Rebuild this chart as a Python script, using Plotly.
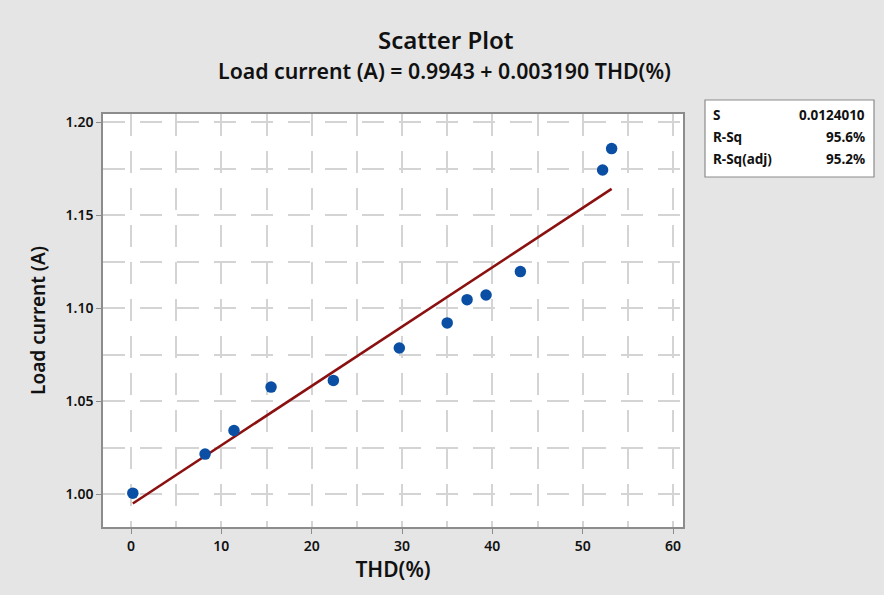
import plotly.graph_objects as go

# ---- data ----
thd = [0.2, 8.2, 11.4, 15.5, 22.4, 29.7, 35.0, 37.2, 39.3, 43.1, 52.2, 53.2]
load_current = [1.0005, 1.0215, 1.0342, 1.0575, 1.0611, 1.0785, 1.0920, 1.1045, 1.1070, 1.1196, 1.1742, 1.1857]
intercept = 0.9943
slope = 0.003190
stats_labels = ["S", "R-Sq", "R-Sq(adj)"]
stats_values = ["0.0124010", "95.6%", "95.2%"]
x_ticks = [0, 10, 20, 30, 40, 50, 60]
y_ticks = [1.00, 1.05, 1.10, 1.15, 1.20]
y_tick_text = ["1.00", "1.05", "1.10", "1.15", "1.20"]

W, H = 884, 595
ML, MR, MT, MB = 103, 201, 114, 68
PW, PH = W - ML - MR, H - MT - MB

def px(x):
    return (x - ML) / PW

def py(y):
    return (H - MB - y) / PH

fit_x = [min(thd), max(thd)]
fit_y = [intercept + slope * v for v in fit_x]

FONT = "Noto Sans"
TXT = "#111111"
GRID = "#d4d4d4"

fig = go.Figure()
fig.add_trace(go.Scatter(x=fit_x, y=fit_y, mode="lines",
                         line=dict(color="#8b1010", width=2.6),
                         hoverinfo="skip", showlegend=False))
fig.add_trace(go.Scatter(x=thd, y=load_current, mode="markers",
                         marker=dict(color="#0a4fa3", size=11.5, symbol="circle",
                                     line=dict(width=0)),
                         showlegend=False))

grid = dict(showgrid=True, gridcolor=GRID, gridwidth=1.5, griddash="22px,15px")
axis_common = dict(zeroline=False, showline=True, linecolor="#8c8c8c", linewidth=1.5,
                   mirror=True, ticks="outside", ticklen=5, tickcolor="#8c8c8c",
                   tickfont=dict(family=FONT, size=14, color=TXT, weight=600))

fig.update_xaxes(range=[-3.1, 61.1], tickvals=x_ticks,
                 minor=dict(dtick=5, tick0=0, showgrid=True, gridcolor=GRID,
                            gridwidth=1.5, griddash="22px,15px", ticks=""),
                 title=dict(text="THD(%)", standoff=5,
                            font=dict(family=FONT, size=21, color=TXT, weight=600)),
                 **axis_common, **grid)
fig.update_yaxes(range=[0.9823, 1.2043], tickvals=y_ticks, ticktext=y_tick_text,
                 minor=dict(dtick=0.025, tick0=1.0, showgrid=True, gridcolor=GRID,
                            gridwidth=1.5, griddash="22px,15px", ticks=""),
                 title=dict(text="Load current (A)", standoff=15,
                            font=dict(family=FONT, size=19, color=TXT, weight=600)),
                 **axis_common, **grid)

annotations = [
    dict(text="Scatter Plot", x=px(W / 2 + 4), y=py(40), xref="paper", yref="paper",
         xanchor="center", yanchor="middle", showarrow=False,
         font=dict(family=FONT, size=24, color=TXT, weight=600)),
    dict(text="Load current (A) = 0.9943 + 0.003190 THD(%)", x=px(W / 2 + 2), y=py(70),
         xref="paper", yref="paper", xanchor="center", yanchor="middle", showarrow=False,
         font=dict(family=FONT, size=21.3, color=TXT, weight=600)),
]

row_y = [115, 137, 159]
for lab, val, ry in zip(stats_labels, stats_values, row_y):
    annotations.append(dict(text=lab, x=px(711), y=py(ry), xref="paper", yref="paper",
                            xanchor="left", yanchor="middle", showarrow=False,
                            font=dict(family=FONT, size=13.5, color=TXT, weight=700)))
    annotations.append(dict(text=val, x=px(867), y=py(ry), xref="paper", yref="paper",
                            xanchor="right", yanchor="middle", showarrow=False,
                            font=dict(family=FONT, size=13.5, color=TXT, weight=700)))

fig.update_layout(
    width=W, height=H,
    margin=dict(l=ML, r=MR, t=MT, b=MB, autoexpand=False),
    paper_bgcolor="#e5e5e5", plot_bgcolor="white",
    annotations=annotations,
    shapes=[dict(type="rect", xref="paper", yref="paper",
                 x0=px(705), x1=px(874), y0=py(177), y1=py(100),
                 fillcolor="white", line=dict(color="#8c8c8c", width=1.2), layer="below")],
    font=dict(family=FONT),
)

fig.write_html("out.html", config={"displayModeBar": False},
               post_script="document.body.style.margin='0';")
